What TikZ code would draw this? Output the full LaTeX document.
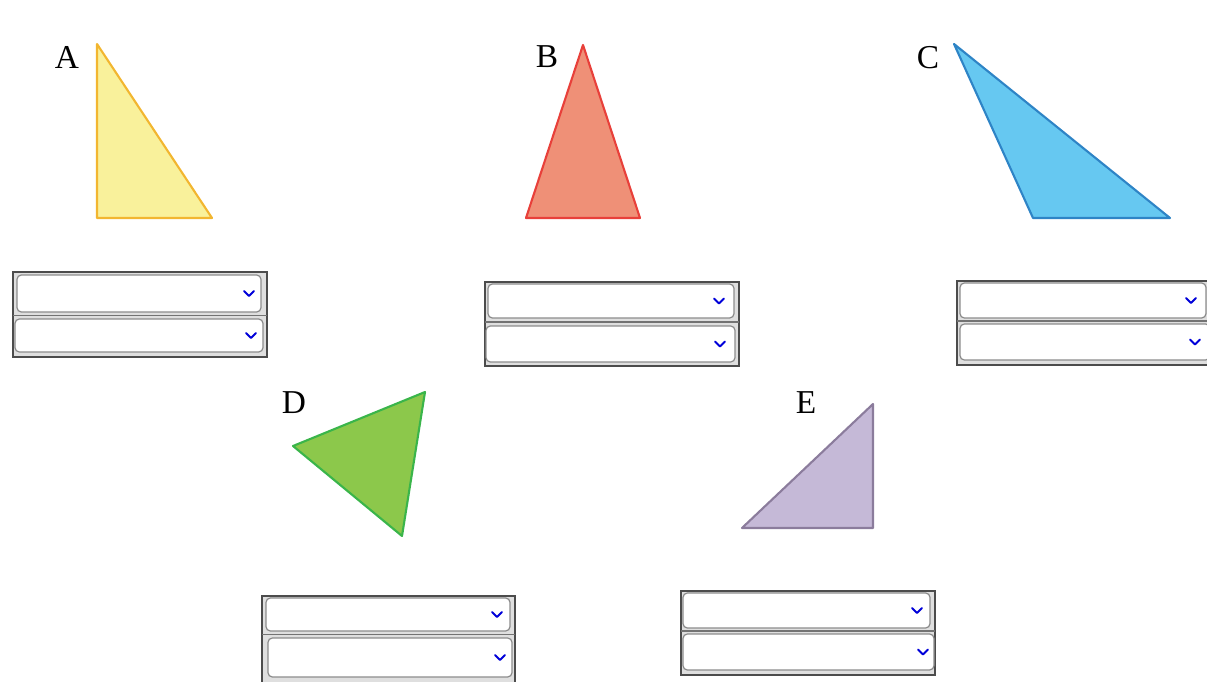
\documentclass[tikz,border=0pt]{standalone}
\usepackage{fontspec}
\setmainfont{Liberation Serif}
\begin{document}
\begin{tikzpicture}[x=0.02cm,y=-0.02cm,
  lab/.style={font=\fontsize{19}{21}\selectfont, inner sep=0pt},
  tri/.style={line width=1.2pt, line join=round},
  outerbox/.style={fill=gray!25, draw=black!70, line width=1pt},
  divider/.style={draw=black!55, line width=0.8pt},
  selbox/.style={fill=white, draw=black!45, line width=0.7pt, rounded corners=2.5pt},
  chev/.style={draw=blue!85!black, line width=1.1pt, line cap=round, line join=round}]
\useasboundingbox (0,0) rectangle (1207,682);
\definecolor{yfill}{HTML}{F9F19B}\definecolor{ydraw}{HTML}{F2B630}
\definecolor{rfill}{HTML}{EF9077}\definecolor{rdraw}{HTML}{E8403A}
\definecolor{bfill}{HTML}{66C8F1}\definecolor{bdraw}{HTML}{2E84C6}
\definecolor{gfill}{HTML}{8CC84B}\definecolor{gdraw}{HTML}{3AB54A}
\definecolor{pfill}{HTML}{C5B9D7}\definecolor{pdraw}{HTML}{8B7C9C}
% triangles
\draw[tri, fill=yfill, draw=ydraw] (97,44) -- (97,218) -- (212,218) -- cycle;
\draw[tri, fill=rfill, draw=rdraw] (583,45) -- (526,218) -- (640,218) -- cycle;
\draw[tri, fill=bfill, draw=bdraw] (954,44) -- (1033,218) -- (1170,218) -- cycle;
\draw[tri, fill=gfill, draw=gdraw] (293,446) -- (425,392) -- (402,536) -- cycle;
\draw[tri, fill=pfill, draw=pdraw] (873,404) -- (873,528) -- (742,528) -- cycle;
% labels
\node[lab] (la) at (67,57) {A};
\node[lab] (lb) at (547,57) {B};
\node[lab] (lc) at (928,58) {C};
\node[lab] (ld) at (294,403) {D};
\node[lab] (le) at (806,403) {E};
% dropdown groups
\newcommand{\selrow}[5]{%
  \draw[selbox] (#1,#2) rectangle (#3,#4);
  \draw[chev] (#5-5,{(#2+#4)/2-2.5}) -- (#5,{(#2+#4)/2+2.5}) -- (#5+5,{(#2+#4)/2-2.5});}
% A
\draw[outerbox] (13,272) rectangle (267,357);
\draw[divider] (13,315.5) -- (267,315.5);
\selrow{17}{275}{261}{312}{249}
\selrow{15}{319}{263}{352}{251}
% B
\draw[outerbox] (485,282) rectangle (739,366);
\draw[divider] (485,322) -- (739,322);
\selrow{488}{284}{734}{318}{719}
\selrow{486}{326}{735}{362}{720}
% C
\draw[outerbox] (957,281) rectangle (1212,365);
\draw[divider] (957,321) -- (1212,321);
\selrow{960}{283}{1206}{318}{1191}
\selrow{960}{324}{1210}{360}{1195}
% D
\draw[outerbox] (262,596) rectangle (515,686);
\draw[divider] (262,634.5) -- (515,634.5);
\selrow{266}{598}{510}{631}{497}
\selrow{268}{638}{512}{677}{500}
% E
\draw[outerbox] (681,591) rectangle (935,675);
\draw[divider] (681,631) -- (935,631);
\selrow{683}{593}{930}{628}{917}
\selrow{683}{634}{934}{670}{923}
\end{tikzpicture}
\end{document}
